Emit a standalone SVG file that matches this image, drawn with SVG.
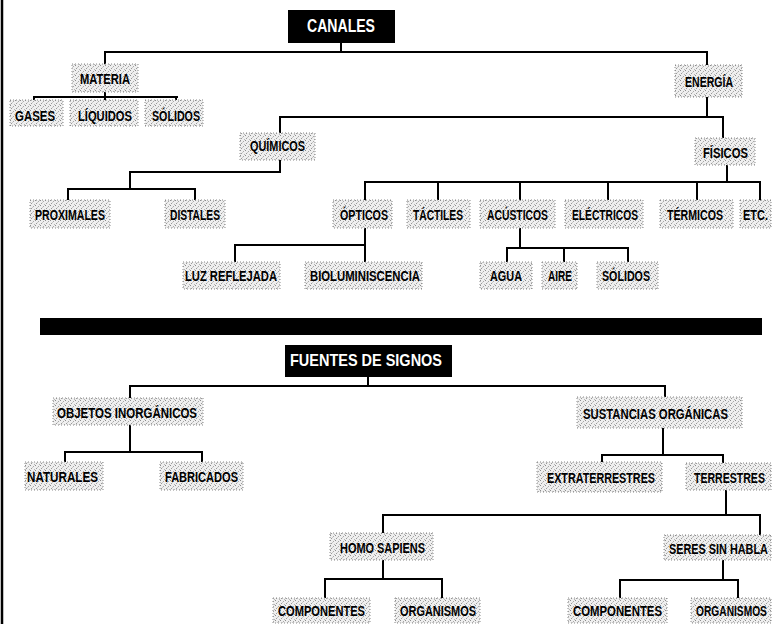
<svg xmlns="http://www.w3.org/2000/svg" width="774" height="624" viewBox="0 0 774 624">
<defs>
<pattern id="dots" width="5" height="5" patternUnits="userSpaceOnUse">
<rect width="5" height="5" fill="#efefef"/>
<rect x="0" y="0" width="1" height="1" fill="#8c8c8c"/>
<rect x="3" y="1" width="1" height="1" fill="#a8a8a8"/>
<rect x="1" y="3" width="1" height="1" fill="#9a9a9a"/>
<rect x="4" y="4" width="1" height="1" fill="#b5b5b5"/>
<rect x="2" y="2" width="1" height="1" fill="#c8c8c8"/>
</pattern>
</defs>
<style>
.bg{fill:#ffffff}
.box{fill:url(#dots);stroke:#8a8a8a;stroke-width:1;stroke-dasharray:1 2}
.dark{fill:#000000}
.t{font-family:"Liberation Sans Narrow","Liberation Sans",Arial,sans-serif;font-weight:bold;font-size:14.5px;fill:#000000}
.w{font-family:"Liberation Sans",Arial,sans-serif;font-weight:bold;font-size:14.5px;fill:#000000}
.h{font-family:"Liberation Sans","Arial",sans-serif;font-weight:bold;fill:#ffffff}
.c{fill:none;stroke:#000000;stroke-width:2;stroke-linecap:square}
</style>
<rect class="bg" x="0" y="0" width="774" height="624"/>
<line x1="2" y1="0" x2="2" y2="624" stroke="#000" stroke-width="2.5"/>
<rect class="dark" x="40" y="318" width="722" height="17"/>

<g id="connectors">
<path class="c" d="M341,43 V52 M105,52 H707 M105,52 V64 M707,52 V65"/>
<path class="c" d="M105,92 V97 M34,97 H177 M34,97 V100 M105,97 V100 M176,97 V100"/>
<path class="c" d="M707,97 V117 M280,117 H723 M280,117 V133 M723,117 V138"/>
<path class="c" d="M280,160 V172 M130,172 H280 M130,172 V189 M68,189 H195 M68,189 V200 M195,189 V200"/>
<path class="c" d="M727,165 V182 M365,182 H760 M365,182 V200 M438,182 V200 M520,182 V200 M608,182 V200 M697,182 V200 M760,182 V200"/>
<path class="c" d="M365,228 V245 M235,245 H365 M235,245 V262 M365,245 V262"/>
<path class="c" d="M520,228 V248 M507,248 H628 M507,248 V262 M564,248 V262 M628,248 V262"/>
<path class="c" d="M368,377 V386 M130,386 H665 M130,386 V398 M665,386 V397"/>
<path class="c" d="M130,425 V452 M65,452 H202 M65,452 V462 M202,452 V462"/>
<path class="c" d="M663,428 V455 M602,455 H723 M602,455 V462 M723,455 V463"/>
<path class="c" d="M726,490 V515 M383,515 H760 M383,515 V533 M760,515 V535"/>
<path class="c" d="M383,560 V579 M325,579 H442 M325,579 V598 M442,579 V598"/>
<path class="c" d="M723,560 V580 M620,580 H738 M620,580 V598 M738,580 V598"/>
</g>

<g id="canales"><rect class="dark" x="288" y="10" width="107" height="33"/><text class="h" x="307" y="32" font-size="18" textLength="68" lengthAdjust="spacingAndGlyphs">CANALES</text></g>
<g id="materia"><rect class="box" x="72" y="64" width="66" height="28"/><text class="t" x="80" y="84" textLength="50" lengthAdjust="spacingAndGlyphs">MATERIA</text></g>
<g id="gases"><rect class="box" x="10" y="100" width="53" height="26"/><text class="t" x="15" y="121" textLength="40" lengthAdjust="spacingAndGlyphs">GASES</text></g>
<g id="liquidos"><rect class="box" x="70" y="100" width="68" height="26"/><text class="t" x="78" y="121" textLength="54" lengthAdjust="spacingAndGlyphs">LÍQUIDOS</text></g>
<g id="solidos1"><rect class="box" x="145" y="100" width="58" height="26"/><text class="t" x="152" y="121" textLength="48" lengthAdjust="spacingAndGlyphs">SÓLIDOS</text></g>
<g id="energia"><rect class="box" x="675" y="65" width="67" height="32"/><text class="t" x="685" y="87" textLength="48" lengthAdjust="spacingAndGlyphs">ENERGÍA</text></g>
<g id="quimicos"><rect class="box" x="240" y="133" width="75" height="27"/><text class="t" x="250" y="151" textLength="55" lengthAdjust="spacingAndGlyphs">QUÍMICOS</text></g>
<g id="fisicos"><rect class="box" x="695" y="138" width="60" height="27"/><text class="t" x="703" y="158" textLength="45" lengthAdjust="spacingAndGlyphs">FÍSICOS</text></g>
<g id="proximales"><rect class="box" x="30" y="200" width="80" height="28"/><text class="t" x="35" y="220" textLength="70" lengthAdjust="spacingAndGlyphs">PROXIMALES</text></g>
<g id="distales"><rect class="box" x="165" y="200" width="60" height="28"/><text class="t" x="170" y="220" textLength="50" lengthAdjust="spacingAndGlyphs">DISTALES</text></g>
<g id="opticos"><rect class="box" x="333" y="200" width="59" height="28"/><text class="t" x="340" y="220" textLength="48" lengthAdjust="spacingAndGlyphs">ÓPTICOS</text></g>
<g id="tactiles"><rect class="box" x="407" y="200" width="63" height="28"/><text class="t" x="413" y="220" textLength="50" lengthAdjust="spacingAndGlyphs">TÁCTILES</text></g>
<g id="acusticos"><rect class="box" x="480" y="200" width="75" height="28"/><text class="t" x="487" y="220" textLength="61" lengthAdjust="spacingAndGlyphs">ACÚSTICOS</text></g>
<g id="electricos"><rect class="box" x="565" y="200" width="78" height="28"/><text class="t" x="572" y="220" textLength="66" lengthAdjust="spacingAndGlyphs">ELÉCTRICOS</text></g>
<g id="termicos"><rect class="box" x="660" y="200" width="73" height="28"/><text class="t" x="667" y="220" textLength="56" lengthAdjust="spacingAndGlyphs">TÉRMICOS</text></g>
<g id="etc"><rect class="box" x="740" y="200" width="31" height="28"/><text class="w" transform="translate(743,220) scale(0.757,1)" x="0" y="0">ETC.</text></g>
<g id="luz"><rect class="box" x="183" y="262" width="97" height="27"/><text class="t" x="185" y="281" textLength="92" lengthAdjust="spacingAndGlyphs">LUZ REFLEJADA</text></g>
<g id="bio"><rect class="box" x="305" y="262" width="117" height="27"/><text class="t" x="310" y="281" textLength="110" lengthAdjust="spacingAndGlyphs">BIOLUMINISCENCIA</text></g>
<g id="agua"><rect class="box" x="480" y="262" width="52" height="27"/><text class="t" x="490" y="281" textLength="32" lengthAdjust="spacingAndGlyphs">AGUA</text></g>
<g id="aire"><rect class="box" x="542" y="262" width="35" height="27"/><text class="t" x="548" y="281" textLength="24" lengthAdjust="spacingAndGlyphs">AIRE</text></g>
<g id="solidos2"><rect class="box" x="597" y="262" width="61" height="27"/><text class="t" x="602" y="281" textLength="48" lengthAdjust="spacingAndGlyphs">SÓLIDOS</text></g>

<g id="fuentes"><rect class="dark" x="285" y="345" width="167" height="32"/><text class="h" x="290" y="366" font-size="17" textLength="152" lengthAdjust="spacingAndGlyphs">FUENTES DE SIGNOS</text></g>
<g id="objetos"><rect class="box" x="53" y="398" width="150" height="27"/><text class="t" x="57" y="418" textLength="140" lengthAdjust="spacingAndGlyphs">OBJETOS INORGÁNICOS</text></g>
<g id="sustancias"><rect class="box" x="577" y="397" width="165" height="31"/><text class="t" x="583" y="419" textLength="145" lengthAdjust="spacingAndGlyphs">SUSTANCIAS ORGÁNICAS</text></g>
<g id="naturales"><rect class="box" x="25" y="462" width="78" height="28"/><text class="t" x="27" y="482" textLength="71" lengthAdjust="spacingAndGlyphs">NATURALES</text></g>
<g id="fabricados"><rect class="box" x="160" y="462" width="83" height="28"/><text class="t" x="165" y="482" textLength="73" lengthAdjust="spacingAndGlyphs">FABRICADOS</text></g>
<g id="extraterrestres"><rect class="box" x="537" y="462" width="125" height="30"/><text class="t" x="547" y="483" textLength="108" lengthAdjust="spacingAndGlyphs">EXTRATERRESTRES</text></g>
<g id="terrestres"><rect class="box" x="686" y="463" width="85" height="27"/><text class="w" transform="translate(694,483) scale(0.728,1)" x="0" y="0">TERRESTRES</text></g>
<g id="homo"><rect class="box" x="330" y="533" width="103" height="27"/><text class="t" x="340" y="553" textLength="85" lengthAdjust="spacingAndGlyphs">HOMO SAPIENS</text></g>
<g id="seres"><rect class="box" x="664" y="535" width="107" height="25"/><text class="w" transform="translate(669,554) scale(0.749,1)" x="0" y="0">SERES SIN HABLA</text></g>
<g id="componentes1"><rect class="box" x="273" y="598" width="97" height="25"/><text class="t" x="278" y="616" textLength="87" lengthAdjust="spacingAndGlyphs">COMPONENTES</text></g>
<g id="organismos1"><rect class="box" x="395" y="598" width="85" height="25"/><text class="t" x="400" y="616" textLength="76" lengthAdjust="spacingAndGlyphs">ORGANISMOS</text></g>
<g id="componentes2"><rect class="box" x="568" y="598" width="99" height="25"/><text class="t" x="573" y="616" textLength="89" lengthAdjust="spacingAndGlyphs">COMPONENTES</text></g>
<g id="organismos2"><rect class="box" x="691" y="598" width="80" height="25"/><text class="w" transform="translate(696,616) scale(0.705,1)" x="0" y="0">ORGANISMOS</text></g>
</svg>
